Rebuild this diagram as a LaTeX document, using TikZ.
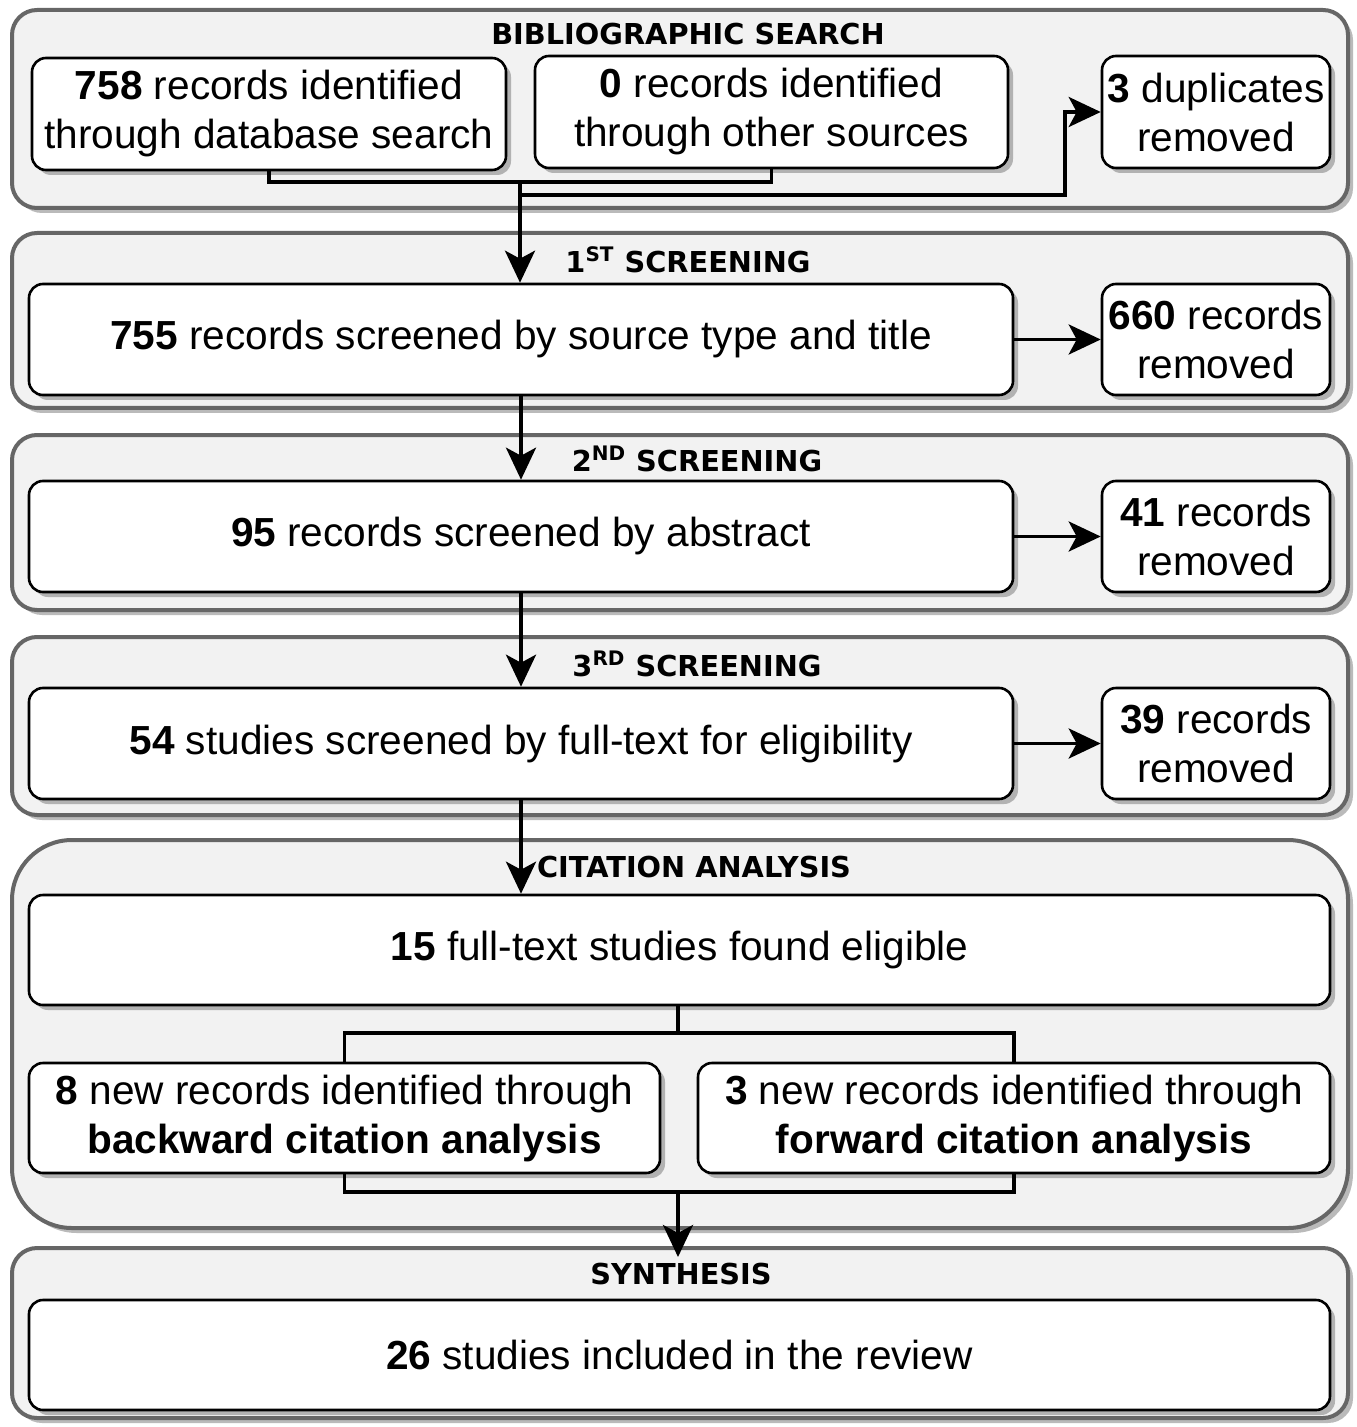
\documentclass[tikz,border=0pt]{standalone}
\usepackage{fontspec}
\setmainfont{Liberation Sans}
\newfontfamily\headfont{DejaVu Sans}
\usetikzlibrary{arrows.meta,shadows}

\begin{document}
\begin{tikzpicture}[x=0.5pt, y=-0.5pt,
	panel/.style={draw=black!60, line width=2pt, fill=black!5, rounded corners=12.5pt,
		drop shadow={shadow xshift=2.5pt, shadow yshift=-2.5pt, fill=black!27, opacity=1}},
	box/.style={draw, line width=1.3pt, fill=white, rounded corners=7pt, align=center,
		inner sep=1pt, font=\fontsize{20.3}{24.5}\selectfont,
		drop shadow={shadow xshift=2.5pt, shadow yshift=-2.5pt, fill=black!30, opacity=1}},
	side/.style={box, minimum width=114pt, minimum height=55.5pt},
	wide/.style={box, minimum width=492pt, minimum height=55.5pt},
	head/.style={font=\headfont\bfseries\fontsize{14.4}{16}\selectfont},
	line/.style={line width=1.9pt},
	arrow/.style={line, -{Stealth[length=16pt, width=15pt, inset=4pt]}}]
	\useasboundingbox (0,0) rectangle (1356,1427);

	% panels
	\draw [panel] (12,10) rectangle (1348,208);
	\draw [panel] (12,233) rectangle (1348,408);
	\draw [panel] (12,435) rectangle (1348,610);
	\draw [panel] (12,637) rectangle (1348,815);
	\draw [panel, rounded corners=30pt] (12,840) rectangle (1348,1228);
	\draw [panel] (12,1248) rectangle (1348,1418);

	\node [head] (h1) at (688,34)   {BIBLIOGRAPHIC SEARCH};
	\node [head] (h2) at (688,260)  {1\textsuperscript{ST} SCREENING};
	\node [head] (h3) at (697,459)  {2\textsuperscript{ND} SCREENING};
	\node [head] (h4) at (697,664)  {3\textsuperscript{RD} SCREENING};
	\node [head] (h5) at (694,867)  {CITATION ANALYSIS};
	\node [head] (h6) at (681,1274) {SYNTHESIS};

	% boxes
	\node [box, minimum width=237pt, minimum height=56pt] (db) at (269,114)
		{\textbf{758} records identified\\through database search};
	\node [box, minimum width=236.5pt, minimum height=56pt] (other) at (771.5,112)
		{\textbf{0} records identified\\through other sources};
	\node [side, minimum height=56pt] (dup) at (1216,112) {\textbf{3} duplicates\\removed};

	\node [wide] (scr1) at (521,339.5) {\textbf{755} records screened by source type and title};
	\node [side] (rem1) at (1216,339.5) {\textbf{660} records\\removed};
	\node [wide] (scr2) at (521,536.5) {\textbf{95} records screened by abstract};
	\node [side] (rem2) at (1216,536.5) {\textbf{41} records\\removed};
	\node [wide] (scr3) at (521,743.5) {\textbf{54} studies screened by full-text for eligibility};
	\node [side] (rem3) at (1216,743.5) {\textbf{39} records\\removed};

	\node [box, minimum width=650.5pt, minimum height=55pt] (elig) at (679.5,950)
		{\textbf{15} full-text studies found eligible};
	\node [box, minimum width=315.5pt, minimum height=55pt] (bwd) at (344.5,1118)
		{\textbf{8} new records identified through\\\textbf{backward citation analysis}};
	\node [box, minimum width=316pt, minimum height=55pt] (fwd) at (1014,1118)
		{\textbf{3} new records identified through\\\textbf{forward citation analysis}};
	\node [box, minimum width=650.5pt, minimum height=55pt] (incl) at (679.5,1355)
		{\textbf{26} studies included in the review};

	% connectors
	\coordinate (merge) at (520,182);
	\coordinate (split) at (520,195);
	\coordinate (bend) at (1065,195);
	\coordinate (fork) at (678,1033);
	\coordinate (join) at (678,1192);
	\coordinate (synth) at (678,1257);

	\draw [line] (db.south) |- (merge);
	\draw [line] (other.south) |- (merge);
	\draw [arrow] (merge) -- (merge |- scr1.north);
	\draw [arrow] (split) -- (bend) |- (dup.west);

	\draw [arrow] (scr1.east) -- (rem1.west);
	\draw [arrow] (scr2.east) -- (rem2.west);
	\draw [arrow] (scr3.east) -- (rem3.west);
	\draw [arrow] (scr1.south) -- (scr2.north);
	\draw [arrow] (scr2.south) -- (scr3.north);
	\draw [arrow] (scr3.south) -- (scr3.south |- elig.north);

	\draw [line] (elig.south -| fork) -- (fork);
	\draw [line] (bwd.north) |- (fork) -| (fwd.north);
	\draw [line] (bwd.south) |- (join) -| (fwd.south);
	\draw [arrow] (join) -- (synth);
\end{tikzpicture}
\end{document}
